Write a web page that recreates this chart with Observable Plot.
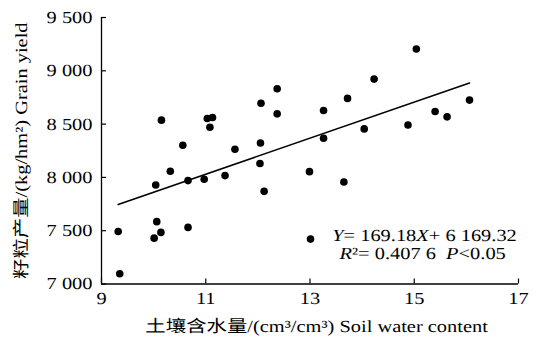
<!DOCTYPE html>
<html>
<head>
<meta charset="utf-8">
<script src="https://cdn.jsdelivr.net/npm/d3@7"></script>
<script src="https://cdn.jsdelivr.net/npm/@observablehq/plot@0.6"></script>
<style>
  html, body { margin: 0; padding: 0; background: #fff; }
  #chart svg { display: block; }
  #chart svg text { text-rendering: geometricPrecision; -webkit-font-smoothing: antialiased; }
</style>
</head>
<body>
<div id="chart"></div>
<script>
// Soil water content (cm3/cm3) and grain yield (kg/hm2)
const soilWater = [10.15, 10.56, 11.03, 11.13, 11.08, 11.56, 12.06, 12.37, 12.37, 12.05,
                   10.32, 10.04, 10.66, 10.97, 11.37, 12.04, 12.12, 12.99,
                   9.32, 10.06, 10.14, 10.01, 10.66, 9.35, 13.01,
                   15.04, 14.23, 13.72, 13.26, 13.26, 14.04, 14.88, 15.40, 15.63, 16.06, 13.65];
const grainYield = [8537, 8302, 8553, 8562, 8471, 8264, 8696, 8831, 8596, 8323,
                    8057, 7929, 7970, 7982, 8017, 8130, 7869, 8054,
                    7493, 7585, 7484, 7430, 7531, 7096, 7421,
                    9204, 8922, 8741, 8628, 8367, 8455, 8492, 8618, 8568, 8725, 7957];

// Fitted line end points
const fitX = [9.32, 16.06];
const fitY = [7746, 8886];

const xDomain = [9, 17];
const yDomain = [7000, 9500];
const xTicks = [9, 11, 13, 15, 17];
const xTickLabels = ["9", "11", "13", "15", "17"];
const yTicks = [7000, 7500, 8000, 8500, 9000, 9500];
const yTickLabels = ["7 000", "7 500", "8 000", "8 500", "9 000", "9 500"];

const xTitle = "土壤含水量/(cm³/cm³) Soil water content";
const yTitle = "籽粒产量/(kg/hm²) Grain yield";
const equationLine = "Y= 169.18X+ 6 169.32";
const statsLine = "R²= 0.407 6\u00a0\u00a0P<0.05";

const points = soilWater.map((x, i) => ({x, y: grainYield[i]}));
const fit = fitX.map((x, i) => ({x, y: fitY[i]}));

const chart = Plot.plot({
  width: 541,
  height: 340,
  marginLeft: 101,
  marginRight: 23,
  marginTop: 17,
  marginBottom: 56.5,
  style: {fontFamily: "'Liberation Serif', 'Noto Sans CJK SC', serif", fontSize: "17px", background: "#fff", color: "#000"},
  x: {domain: xDomain, axis: null},
  y: {domain: yDomain, axis: null},
  marks: [
    Plot.ruleX([xDomain[0]], {stroke: "#000", strokeWidth: 1.3}),
    Plot.ruleY([yDomain[0]], {stroke: "#000", strokeWidth: 1.3}),
    Plot.axisY(yTicks, {anchor: "left", tickSize: 5, dx: 5, label: null, tickFormat: () => "", stroke: "#000", strokeWidth: 1.2}),
    Plot.axisY(yTicks, {anchor: "left", tickSize: 0, tickPadding: 9, label: null, fontSize: 17, fill: "#000",
      tickFormat: (d) => yTickLabels[yTicks.indexOf(d)]}),
    Plot.axisX(xTicks, {anchor: "bottom", tickSize: 5, dy: -5, label: null, tickFormat: () => "", stroke: "#000", strokeWidth: 1.2}),
    Plot.axisX(xTicks, {anchor: "bottom", tickSize: 0, tickPadding: 8, label: null, fontSize: 17, fill: "#000",
      tickFormat: (d) => xTickLabels[xTicks.indexOf(d)]}),
    Plot.line(fit, {x: "x", y: "y", stroke: "#000", strokeWidth: 1.6}),
    Plot.dot(points, {x: "x", y: "y", r: 3.8, fill: "#000", stroke: "none"}),
    Plot.text([xTitle], {text: (d) => d, frameAnchor: "bottom", textAnchor: "middle", lineAnchor: "middle", dx: 6.6, dy: 43, fontSize: 17, fill: "#000"}),
    Plot.text([yTitle], {text: (d) => d, frameAnchor: "left", textAnchor: "middle", lineAnchor: "middle", dx: -79.5, rotate: -90, fontSize: 17, fill: "#000"}),
    Plot.text([equationLine], {text: (d) => d, frameAnchor: "bottom-right", textAnchor: "end", lineAnchor: "middle", dx: -1.7, dy: -48.5, fontSize: 17, fill: "#000"}),
    Plot.text([statsLine], {text: (d) => d, frameAnchor: "bottom-right", textAnchor: "end", lineAnchor: "middle", dx: -12.7, dy: -30, fontSize: 17, fill: "#000"})
  ]
});

// Italicise the variable letters in the annotation
d3.select(chart).selectAll("text").each(function () {
  const t = this.textContent;
  if (t === equationLine || t === statsLine) {
    const parts = t.split(/([YXRP])/).filter((s) => s.length);
    const sel = d3.select(this);
    sel.text(null);
    parts.forEach((p) => {
      const ts = sel.append("tspan").text(p);
      if (/^[YXRP]$/.test(p)) ts.attr("font-style", "italic");
    });
  }
});

// The reference typeface is horizontally widened; emulate it
d3.select(chart).selectAll("text").each(function () {
  const tr = this.getAttribute("transform");
  if (tr) {
    this.setAttribute("transform", tr + " scale(1.2,1)");
  } else {
    const x = +this.getAttribute("x") || 0, y = +this.getAttribute("y") || 0;
    this.removeAttribute("x"); this.removeAttribute("y");
    this.setAttribute("transform", `translate(${x},${y}) scale(1.2,1)`);
  }
});

document.getElementById("chart").appendChild(chart);
</script>
</body>
</html>
